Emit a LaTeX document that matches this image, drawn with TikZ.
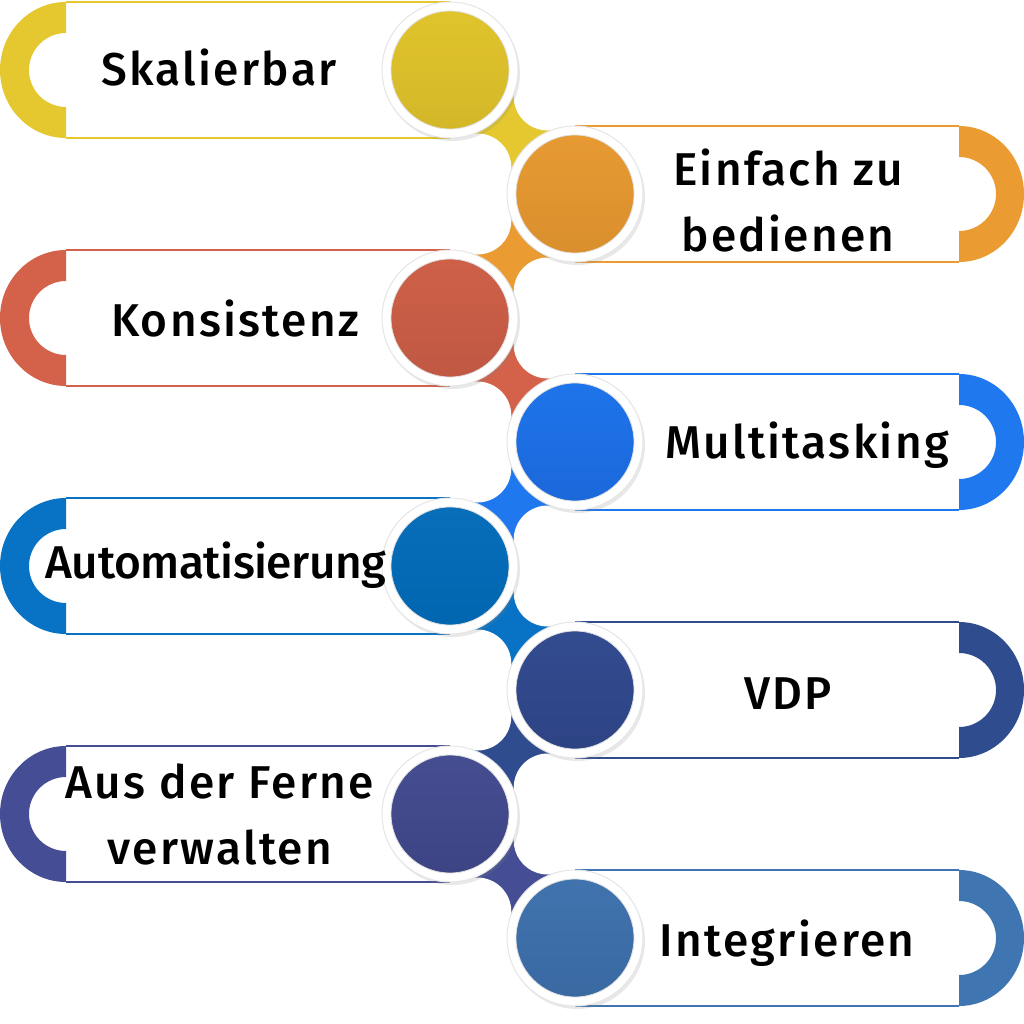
\documentclass[tikz,border=0pt]{standalone}
\usepackage{fontspec}
\newfontfamily\labelfont{Fira Sans Medium}[LetterSpace=5]
\newfontfamily\longlabelfont{Fira Sans Medium}[LetterSpace=-1]
\usetikzlibrary{calc,shadows}

\definecolor{skalCol}{RGB}{229,199,47}
\definecolor{skalTop}{RGB}{224,196,44}
\definecolor{skalBot}{RGB}{212,183,40}
\definecolor{einfCol}{RGB}{234,156,51}
\definecolor{einfTop}{RGB}{231,154,50}
\definecolor{einfBot}{RGB}{218,143,46}
\definecolor{konsCol}{RGB}{212,98,74}
\definecolor{konsTop}{RGB}{206,96,72}
\definecolor{konsBot}{RGB}{192,88,67}
\definecolor{multCol}{RGB}{31,120,238}
\definecolor{multTop}{RGB}{30,116,234}
\definecolor{multBot}{RGB}{27,104,218}
\definecolor{autoCol}{RGB}{8,115,196}
\definecolor{autoTop}{RGB}{8,110,186}
\definecolor{autoBot}{RGB}{0,102,176}
\definecolor{vdpCol}{RGB}{47,76,143}
\definecolor{vdpTop}{RGB}{51,76,144}
\definecolor{vdpBot}{RGB}{45,67,132}
\definecolor{ferCol}{RGB}{69,78,148}
\definecolor{ferTop}{RGB}{70,78,146}
\definecolor{ferBot}{RGB}{60,68,132}
\definecolor{intCol}{RGB}{63,118,177}
\definecolor{intTop}{RGB}{64,115,174}
\definecolor{intBot}{RGB}{58,105,162}

\begin{document}
\begin{tikzpicture}[x=1pt,y=1pt,yscale=-1,xscale=1,
  boxline/.style={line width=1.5},
  ring/.style={circle, minimum size=136, inner sep=0, fill=white, draw=black!10, line width=1,
    drop shadow={opacity=0.18, shadow xshift=2pt, shadow yshift=-3pt}},
  disc/.style={circle, minimum size=118, inner sep=0, draw=black!12, line width=0.8, shading angle=45},
  itemtext/.style={font=\labelfont\fontsize{46}{66}\selectfont, align=center, inner sep=0},
  neckcut/.style={fill=white}]
\useasboundingbox (0,0) rectangle (1024,1024);

%Shape: Left box [Skalierbar]
\fill[skalCol] (66,2) arc[start angle=270, end angle=90, x radius=66, y radius=68] -- (66,107) arc[start angle=90, end angle=270, radius=37] -- cycle;
\draw[boxline, skalCol] (66,2) -- (450,2) (66,138) -- (450,138);
%Shape: Right box [Einfach zu bedienen]
\fill[einfCol] (959,126) arc[start angle=270, end angle=450, x radius=65, y radius=68] -- (959,231) arc[start angle=90, end angle=-90, radius=37] -- cycle;
\draw[boxline, einfCol] (575,126) -- (959,126) (575,262) -- (959,262);
%Shape: Left box [Konsistenz]
\fill[konsCol] (66,250) arc[start angle=270, end angle=90, x radius=66, y radius=68] -- (66,355) arc[start angle=90, end angle=270, radius=37] -- cycle;
\draw[boxline, konsCol] (66,250) -- (450,250) (66,386) -- (450,386);
%Shape: Right box [Multitasking]
\fill[multCol] (959,374) arc[start angle=270, end angle=450, x radius=65, y radius=68] -- (959,479) arc[start angle=90, end angle=-90, radius=37] -- cycle;
\draw[boxline, multCol] (575,374) -- (959,374) (575,510) -- (959,510);
%Shape: Left box [Automatisierung]
\fill[autoCol] (66,498) arc[start angle=270, end angle=90, x radius=66, y radius=68] -- (66,603) arc[start angle=90, end angle=270, radius=37] -- cycle;
\draw[boxline, autoCol] (66,498) -- (450,498) (66,634) -- (450,634);
%Shape: Right box [VDP]
\fill[vdpCol] (959,622) arc[start angle=270, end angle=450, x radius=65, y radius=68] -- (959,727) arc[start angle=90, end angle=-90, radius=37] -- cycle;
\draw[boxline, vdpCol] (575,622) -- (959,622) (575,758) -- (959,758);
%Shape: Left box [Aus der Ferne verwalten]
\fill[ferCol] (66,746) arc[start angle=270, end angle=90, x radius=66, y radius=68] -- (66,851) arc[start angle=90, end angle=270, radius=37] -- cycle;
\draw[boxline, ferCol] (66,746) -- (450,746) (66,882) -- (450,882);
%Shape: Right box [Integrieren]
\fill[intCol] (959,870) arc[start angle=270, end angle=450, x radius=65, y radius=68] -- (959,975) arc[start angle=90, end angle=-90, radius=37] -- cycle;
\draw[boxline, intCol] (575,870) -- (959,870) (575,1006) -- (959,1006);

%Circle anchors
\coordinate (c1) at (450,70);
\coordinate (c2) at (575,194);
\coordinate (c3) at (450,318);
\coordinate (c4) at (575,442);
\coordinate (c5) at (450,566);
\coordinate (c6) at (575,690);
\coordinate (c7) at (450,814);
\coordinate (c8) at (575,938);

%Necks between circles
\foreach \a/\b/\col in {c1/c2/skalCol, c2/c3/einfCol, c3/c4/konsCol, c4/c5/multCol, c5/c6/autoCol, c6/c7/vdpCol, c7/c8/ferCol}{
  \coordinate (\a-l) at ($(\a)!0.5!(\b)!50pt!90:(\b)$);
  \coordinate (\a-r) at ($(\a)!0.5!(\b)!50pt!-90:(\b)$);
  \fill[\col] (\a) -- (\a-l) -- (\b) -- (\a-r) -- cycle;
  \fill[neckcut] (\a-l) circle[radius=34] (\a-r) circle[radius=34];
}

%Circles
\node[ring] (r1) at (c1) {};
\node[disc, top color=skalTop, bottom color=skalBot] (d1) at (c1) {};
\node[ring] (r2) at (c2) {};
\node[disc, top color=einfTop, bottom color=einfBot] (d2) at (c2) {};
\node[ring] (r3) at (c3) {};
\node[disc, top color=konsTop, bottom color=konsBot] (d3) at (c3) {};
\node[ring] (r4) at (c4) {};
\node[disc, top color=multTop, bottom color=multBot] (d4) at (c4) {};
\node[ring] (r5) at (c5) {};
\node[disc, top color=autoTop, bottom color=autoBot] (d5) at (c5) {};
\node[ring] (r6) at (c6) {};
\node[disc, top color=vdpTop, bottom color=vdpBot] (d6) at (c6) {};
\node[ring] (r7) at (c7) {};
\node[disc, top color=ferTop, bottom color=ferBot] (d7) at (c7) {};
\node[ring] (r8) at (c8) {};
\node[disc, top color=intTop, bottom color=intBot] (d8) at (c8) {};

%Labels
\node[itemtext, anchor=base] (t1) at (219,86) {Skalierbar};
\node[itemtext] (t2) at (788,201) {Einfach zu\\bedienen};
\node[itemtext, anchor=base] (t3) at (235,336) {Konsistenz};
\node[itemtext, anchor=base] (t4) at (807,458) {Multitasking};
\node[itemtext, anchor=base, font=\longlabelfont\fontsize{46}{66}\selectfont] (t5) at (216,578) {Automatisierung};
\node[itemtext, anchor=base] (t6) at (788,709) {VDP};
\node[itemtext] (t7) at (220,814) {Aus der Ferne\\verwalten};
\node[itemtext, anchor=base] (t8) at (787,956) {Integrieren};
\end{tikzpicture}
\end{document}
